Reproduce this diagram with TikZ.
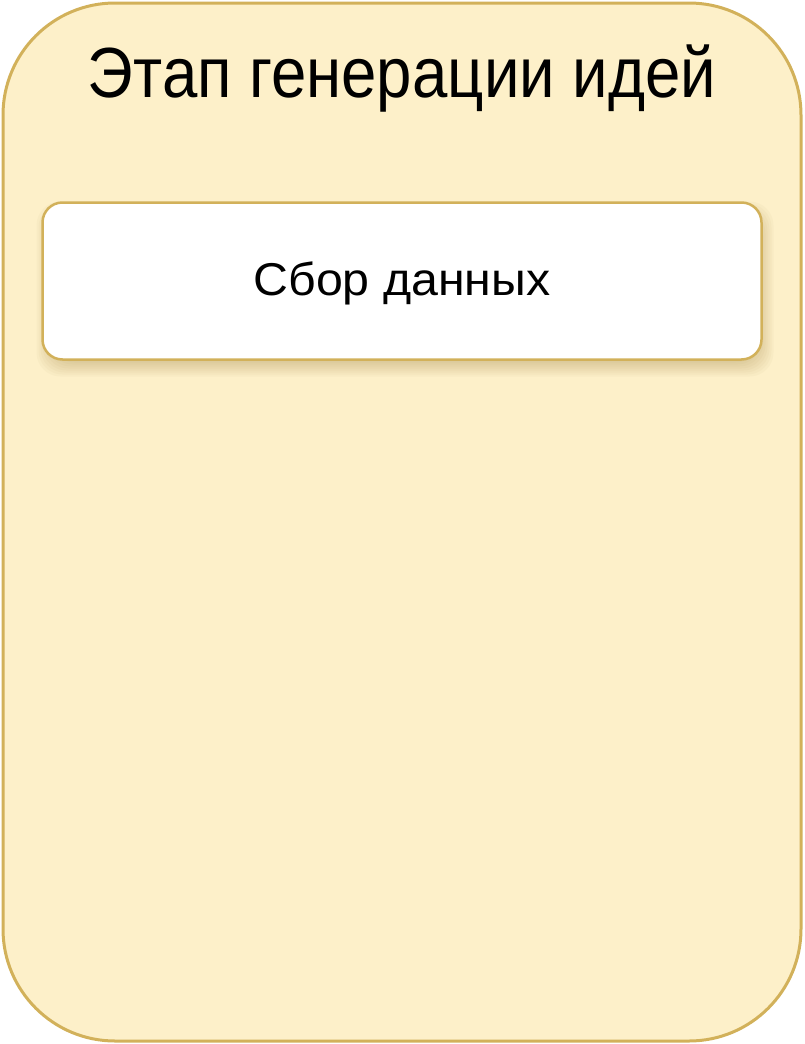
\documentclass[tikz,border=0pt]{standalone}
\usepackage{fontspec}
\setmainfont{Liberation Sans}
\definecolor{outerfill}{HTML}{FDF0C9}
\definecolor{goldline}{HTML}{D2B15A}
\definecolor{shadowcol}{HTML}{8A6A20}
\tikzset{
  stage/.style={draw=goldline, line width=3pt, fill=outerfill, rounded corners=112pt, minimum width=798pt, minimum height=1038pt, inner sep=0pt},
  stepbox/.style={draw=goldline, line width=2.5pt, fill=white, rounded corners=20pt, minimum width=719pt, minimum height=157pt, inner sep=0pt},
  softshadow/.style={fill=shadowcol, draw=none, rounded corners=24pt, fill opacity=0.035, inner sep=0pt},
  titletext/.style={font=\fontsize{71}{80}\selectfont, xscale=0.895, anchor=base, inner sep=0pt},
  boxtext/.style={font=\fontsize{46}{54}\selectfont, xscale=1.05, anchor=base, inner sep=0pt}
}
\begin{document}
\begin{tikzpicture}[x=1pt,y=-1pt]
\useasboundingbox (0,0) rectangle (804,1044);
\node[stage] (stage) at (402,522) {};
\node[titletext] (title) at (402,97) {Этап генерации идей};
\foreach \s in {0,2,...,14}{
  \node[softshadow, minimum width=719pt+2*\s pt-10pt, minimum height=157pt+2*\s pt-10pt] (sh\s) at (405,289) {};
}
\node[stepbox] (collect) at (402,281) {};
\node[boxtext] (collecttext) at (402,295) {Сбор данных};
\end{tikzpicture}
\end{document}
